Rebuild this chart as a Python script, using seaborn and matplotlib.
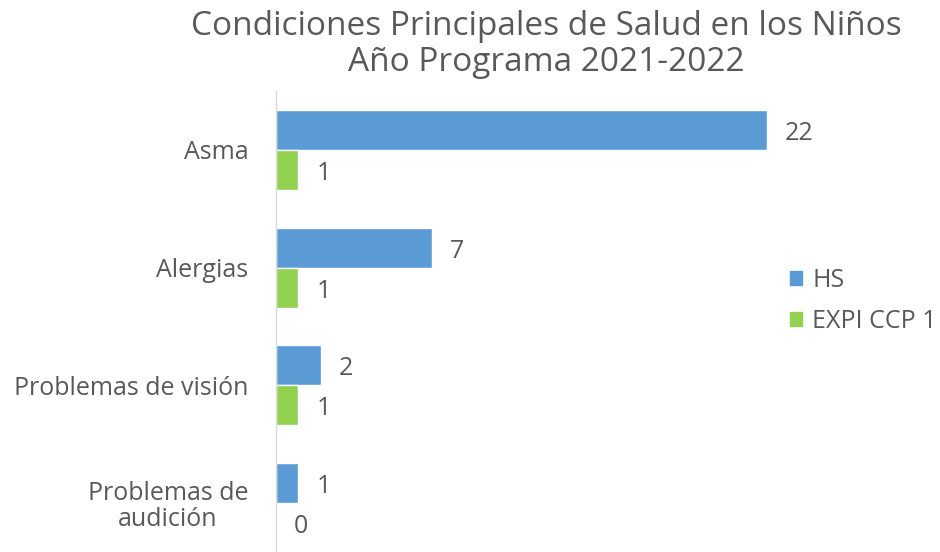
import matplotlib
matplotlib.use("Agg")
import matplotlib.pyplot as plt
import seaborn as sns
import pandas as pd

categorias = ["Asma", "Alergias", "Problemas de visión", "Problemas de\naudición"]
series = ["HS", "EXPI CCP 1"]
hs = [22, 7, 2, 1]
expi = [1, 1, 1, 0]

df = pd.DataFrame({
    "cond": categorias * 2,
    "serie": [series[0]] * 4 + [series[1]] * 4,
    "valor": hs + expi,
})

sns.set_theme(style="white")
plt.rcParams["font.family"] = ["Open Sans", "DejaVu Sans"]
gris = "#595959"
colores = {"HS": "#5B9BD5", "EXPI CCP 1": "#92D050"}

fig = plt.figure(figsize=(9.4, 5.52), dpi=100)
ax = fig.add_axes([0.2936, -0.018, 0.57, 0.853])
sns.barplot(data=df, y="cond", x="valor", hue="serie", palette=colores,
            orient="h", width=0.68, ax=ax, legend=False, saturation=1)

# value labels, nudged a few px down like the original
for cont in ax.containers:
    for t in ax.bar_label(cont, padding=13, fontsize=18, color=gris):
        t.xyann = (t.xyann[0], -2.5)

ax.set_xlim(0, 24)
ax.set_xlabel("")
ax.set_ylabel("")
ax.set_xticks([])
ax.tick_params(axis="y", labelsize=18, labelcolor=gris, length=0, pad=20)
for t in ax.get_yticklabels():
    t.set_multialignment("center")
    t.set_linespacing(1.05)
for s in ["top", "right", "bottom"]:
    ax.spines[s].set_visible(False)
ax.spines["left"].set_color("#d9d9d9")
ax.spines["left"].set_linewidth(1)

handles = [plt.Rectangle((0, 0), 1, 1, color=colores[s]) for s in series]
fig.legend(handles, series, loc="center left", bbox_to_anchor=(0.840, 0.455),
           frameon=False, fontsize=18, labelcolor=gris, handlelength=0.5,
           handleheight=0.5, handletextpad=0.4, labelspacing=0.65,
           borderaxespad=0, borderpad=0)

fig.suptitle("Condiciones Principales de Salud en los Niños\nAño Programa 2021-2022",
             x=0.581, y=0.982, fontsize=24, color=gris, linespacing=1.12)

fig.savefig("out.png", dpi=100)
